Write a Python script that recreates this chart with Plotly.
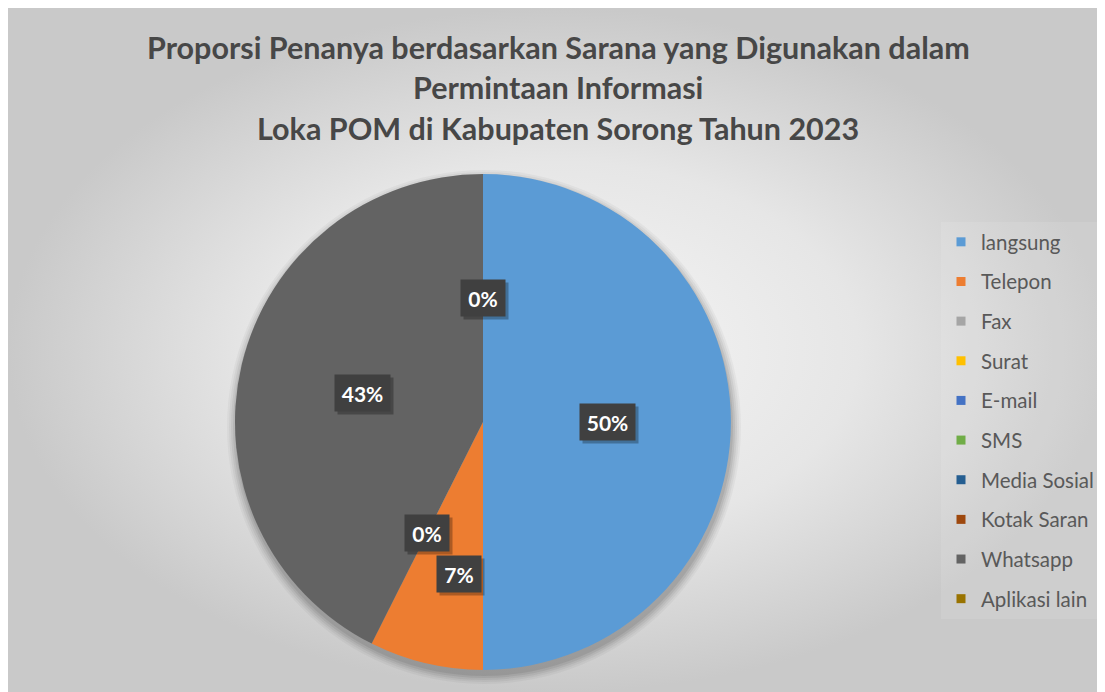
import math
import plotly.graph_objects as go

# ---------------- data ----------------
categories = ["langsung", "Telepon", "Fax", "Surat", "E-mail", "SMS",
              "Media Sosial", "Kotak Saran", "Whatsapp", "Aplikasi lain"]
values = [27, 4, 0, 0, 0, 0, 0, 0, 23, 0]
colors = ["#5B9BD5", "#ED7D31", "#A5A5A5", "#FFC000", "#4472C4", "#70AD47",
          "#255E91", "#9E480E", "#636363", "#997300"]
title_lines = ["Proporsi Penanya berdasarkan Sarana yang Digunakan dalam",
               "Permintaan Informasi",
               "Loka POM di Kabupaten Sorong Tahun 2023"]

# ---------------- geometry / style ----------------
W, H = 1097, 684                       # page body margin of 8px supplies the white strip
cx, cy_top, R = 475, 414, 248          # pie centre (px from left / top of figure) and radius
cy = H - cy_top
label_r = [0.5, 0.63, 0.5, 0.5, 0.5, 0.5, 0.5, 0.5, 0.5, 0.5]
label_dx = [0, 12, 0, 0, 0, 0, 0, 0, 0, 0]   # best-fit nudges (px)
FONT = "Lato"

fig = go.Figure()

# background radial gradient (hidden cartesian axes)
fig.add_trace(go.Scatter(
    x=[0, 1, 1, 0, 0], y=[0, 0, 1, 1, 0], mode="lines", fill="toself",
    line=dict(width=0),
    fillgradient=dict(type="radial",
                      colorscale=[[0, "#f6f6f6"], [0.55, "#e6e6e6"], [1, "#c9c9c9"]]),
    hoverinfo="skip", showlegend=False))

# legend entries
for c, col in zip(categories, colors):
    fig.add_trace(go.Scatter(
        x=[None], y=[None], mode="markers", name=c, legendgroup=c,
        marker=dict(symbol="square", size=9, color=col), showlegend=True))

# soft shadow under pie
for k, a in enumerate([0.035, 0.045, 0.055, 0.065, 0.075]):
    rr = R + 9 - 2 * k
    fig.add_trace(go.Pie(
        values=[1], marker=dict(colors=[f"rgba(0,0,0,{a})"]),
        textinfo="none", hoverinfo="skip", showlegend=False, sort=False,
        domain=dict(x=[(cx - rr + 1) / W, (cx + rr + 1) / W],
                    y=[(cy - rr - 5) / H, (cy + rr - 5) / H])))

fig.add_trace(go.Pie(
    labels=categories, values=values, sort=False, direction="clockwise",
    rotation=0, marker=dict(colors=colors, line=dict(width=0)),
    textinfo="none", showlegend=False,
    domain=dict(x=[(cx - R) / W, (cx + R) / W], y=[(cy - R) / H, (cy + R) / H])))

# data labels with dark boxes
total = sum(values)
cum = 0.0
seen = set()
annotations = []
for v, lr, ddx in zip(values, label_r, label_dx):
    mid = (cum + v / 2) / total
    cum += v
    ang = 2 * math.pi * mid
    px = cx + lr * R * math.sin(ang) + ddx
    py = cy + lr * R * math.cos(ang)
    pct = v / total * 100
    txt = f"{int(math.floor(pct + 0.5))}%"
    key = (round(px), round(py))
    if key in seen:
        continue
    seen.add(key)
    bw = 11 * len(txt) + 22
    # shadow box
    annotations.append(dict(
        x=px / W, y=py / H, xref="paper", yref="paper", text=" ",
        showarrow=False, xanchor="center", yanchor="middle",
        width=bw, height=36, borderpad=0,
        xshift=3, yshift=-3, bgcolor="rgba(0,0,0,0.28)",
        font=dict(family=FONT, size=21, color="rgba(0,0,0,0)")))
    annotations.append(dict(
        x=px / W, y=py / H, xref="paper", yref="paper", text=f"<b>{txt}</b>",
        showarrow=False, xanchor="center", yanchor="middle",
        width=bw, height=36, borderpad=0, bgcolor="#404040",
        font=dict(family=FONT, size=21, color="white")))

# title lines
for i, t in enumerate(title_lines):
    annotations.append(dict(
        x=550 / W, y=(H - (39 + 40.5 * i)) / H, xref="paper", yref="paper",
        text=f"<b>{t}</b>", showarrow=False, xanchor="center", yanchor="middle",
        font=dict(family=FONT, size=30.5, color="#474747")))

fig.update_layout(
    width=W, height=H, margin=dict(l=0, r=0, t=0, b=0),
    paper_bgcolor="white", plot_bgcolor="rgba(0,0,0,0)",
    xaxis=dict(domain=[0, 1], range=[0, 1], visible=False, fixedrange=True),
    yaxis=dict(domain=[0, 1], range=[0, 1], visible=False, fixedrange=True),
    showlegend=True,
    legend=dict(x=933 / W, y=(H - 214) / H, xanchor="left", yanchor="top",
                font=dict(family=FONT, size=20.5, color="#595959"),
                tracegroupgap=10, bgcolor="rgba(255,255,255,0.10)"),
    annotations=annotations,
)

fig.write_html("out.html")
